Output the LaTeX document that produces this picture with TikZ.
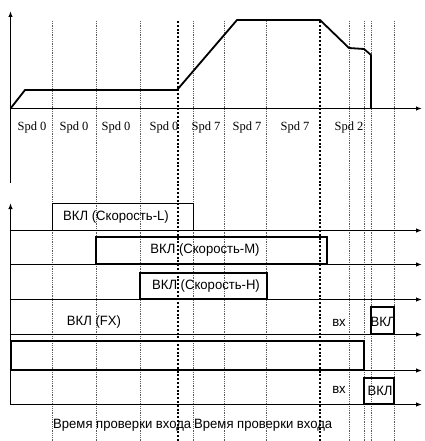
\documentclass[tikz,border=0pt]{standalone}
\usepackage{fontspec}
\setmainfont{Liberation Serif}
\newfontfamily\narrowsans[FakeStretch=0.97]{Liberation Sans}
\usepackage{tikz}
\usetikzlibrary{arrows.meta}
\usepackage{xcolor}
\definecolor{checkgray}{RGB}{90,90,90}

\tikzset{
  checkline/.style={checkgray,line width=0.6pt,dash pattern=on 0.6pt off 1.2pt},
  limitline/.style={black,line width=2pt,dash pattern=on 2pt off 1.8pt},
  axisline/.style={black,line width=1.2pt},
  rowline/.style={black,line width=1.1pt,->},
  speedline/.style={black,line width=1.8pt,line join=round},
  spdlabel/.style={font=\fontsize{12.5}{12.5}\selectfont,inner sep=0pt},
  onlabel/.style={font=\narrowsans\fontsize{13.5}{13.5}\selectfont,inner sep=0pt},
  onbox/.style={black,line width=1.2pt}
}

\begin{document}
\begin{tikzpicture}[x=1pt,y=-1pt,>={Latex[length=6pt,width=4.5pt]}]
\useasboundingbox (0,0) rectangle (424,441);
% check times
\foreach \xx in {52,96,140,193,224,266,349,364,371,394}
  \draw[checkline] (\xx,21) -- (\xx,441);
\draw[limitline] (178,21) -- (178,441);
\draw[limitline] (320,21) -- (320,441);
% speed profile
\coordinate (origin) at (10.5,108.5);
\coordinate (vtop) at (10.5,11);
\coordinate (vbot) at (10.5,183);
\coordinate (hend) at (422,108.5);
\draw[axisline,<-] (vtop) -- (vbot);
\draw[axisline,->] (origin) -- (hend);
\draw[speedline] (origin) -- (25,90) -- (177,90) -- (237,20) -- (320,20)
  -- (349,48) -- (364,49) -- (371,55) -- (371,108);
\node[spdlabel] (spdA) at (32,127) {Spd 0};
\node[spdlabel] (spdB) at (74,127) {Spd 0};
\node[spdlabel] (spdC) at (116,127) {Spd 0};
\node[spdlabel] (spdD) at (164,127) {Spd 0};
\node[spdlabel] (spdE) at (206,127) {Spd 7};
\node[spdlabel] (spdF) at (247,127) {Spd 7};
\node[spdlabel] (spdG) at (295,127) {Spd 7};
\node[spdlabel] (spdH) at (349,127) {Spd 2};
% inputs
\coordinate (ibot) at (10.5,404.5);
\coordinate (itop) at (10.5,203);
\draw[axisline,<-] (itop) -- (ibot);
\foreach \yy in {230.5,264.5,299.5,334.5,370.5,404.5}
  \draw[rowline] (10.5,\yy) -- (422,\yy);
\draw[onbox,line width=1pt] (52,230) -- (52,203) -- (193,203) -- (193,230);
\node[onlabel] (speedL) at (116,217) {ВКЛ (Скорость-L)};
\draw[onbox,line width=1.6pt] (96,237) rectangle (327,264);
\node[onlabel] (speedM) at (205,250) {ВКЛ (Скорость-M)};
\draw[onbox] (140,273) rectangle (267,299);
\node[onlabel] (speedH) at (206,286) {ВКЛ (Скорость-H)};
\node[onlabel] (fx) at (94,322) {ВКЛ (FX)};
\node[onlabel] (inA) at (339,323) {вх};
\draw[onbox,line width=1.6pt] (371,307) rectangle (394,334);
\node[onlabel] (onA) at (383,322) {ВКЛ};
\draw[onbox,line width=1.4pt] (10.5,341) rectangle (364,370);
\draw[black,line width=2pt] (10.5,341) -- (10.5,370);
\node[onlabel] (inB) at (339,390) {вх};
\draw[onbox,line width=1.6pt] (364,378) rectangle (394,404);
\node[onlabel] (onB) at (380,391) {ВКЛ};
\node[onlabel,anchor=west] (checkA) at (53,425) {Время проверки входа};
\node[onlabel,anchor=west] (checkB) at (194,425) {Время проверки входа};
\end{tikzpicture}
\end{document}
